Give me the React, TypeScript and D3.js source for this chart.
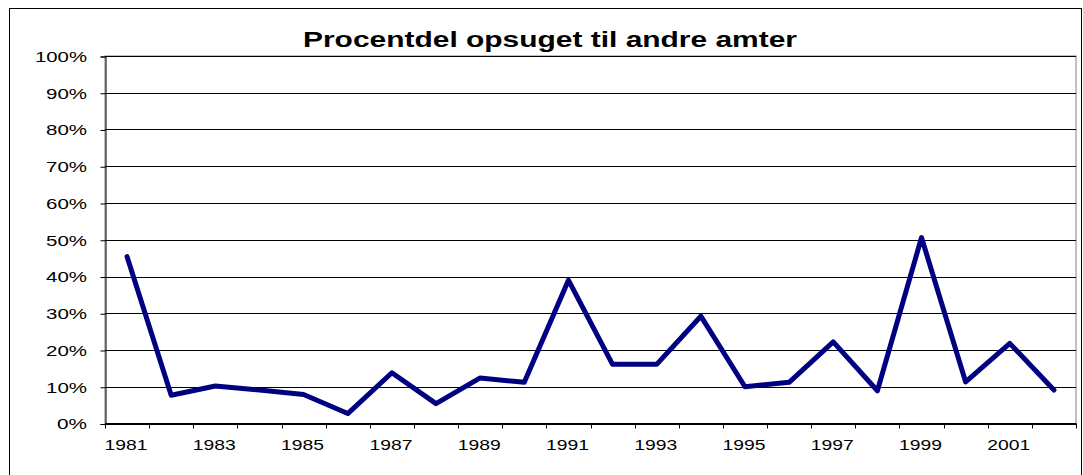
import React, {useEffect, useRef} from "react";
import * as d3 from "d3";

const years = ["1981", "1982", "1983", "1984", "1985", "1986", "1987", "1988", "1989", "1990", "1991",
    "1992", "1993", "1994", "1995", "1996", "1997", "1998", "1999", "2000", "2001", "2002"];
const shares = [0.454, 0.077, 0.102, 0.091, 0.079, 0.027, 0.138, 0.054, 0.124, 0.112, 0.39,
    0.161, 0.161, 0.292, 0.1, 0.112, 0.222, 0.089, 0.506, 0.113, 0.218, 0.091];
const yTicks = [0, 0.1, 0.2, 0.3, 0.4, 0.5, 0.6, 0.7, 0.8, 0.9, 1];
const title = "Procentdel opsuget til andre amter";

const font = "Liberation Sans, Arial, sans-serif";

const App = () => {
    const ref = useRef<SVGSVGElement>(null);

    useEffect(() => {
        const w = 1083;
        const h = 475;
        const left = 105, right = 1076, top = 56, bottom = 423.5;

        const svg = d3.select(ref.current)
            .attr("width", w)
            .attr("height", h);
        svg.selectAll("*").remove();

        const xScale = d3.scaleBand()
            .domain(years)
            .range([left, right]);

        const yScale = d3.scaleLinear()
            .domain([0, 1])
            .range([bottom, top]);

        // outer chart frame
        svg.append("rect")
            .attr("x", 9.5).attr("y", 8.5)
            .attr("width", 1072).attr("height", 500)
            .attr("fill", "#fff")
            .attr("stroke", "#000");

        // title, stretched wide like the old excel rendering
        svg.append("text")
            .attr("x", 303)
            .attr("y", 47)
            .attr("font-family", font)
            .attr("font-weight", "bold")
            .attr("font-size", 22)
            .attr("textLength", 494)
            .attr("lengthAdjust", "spacingAndGlyphs")
            .text(title);

        // plot area border
        svg.append("rect")
            .attr("x", left).attr("y", top)
            .attr("width", right - left).attr("height", bottom - top)
            .attr("fill", "none")
            .attr("stroke", "#808080");

        // gridlines
        svg.append("g")
            .selectAll("line")
            .data(yTicks)
            .join("line")
            .attr("x1", left).attr("x2", right)
            .attr("y1", d => Math.round(yScale(d)) + 0.5)
            .attr("y2", d => Math.round(yScale(d)) + 0.5)
            .attr("stroke", "#000")
            .attr("stroke-width", 1);

        const yAxis = d3.axisLeft(yScale)
            .tickValues(yTicks)
            .tickFormat(d3.format(".0%"))
            .tickSize(5)
            .tickPadding(13.5);
        const gy = svg.append("g")
            .attr("transform", `translate(${left + 0.5},0.5)`)
            .call(yAxis);
        gy.select(".domain").attr("stroke", "#000");
        gy.selectAll("text")
            .attr("font-family", font)
            .attr("font-size", 15)
            .attr("fill", "#000")
            .attr("textLength", (d: any) => (d3.format(".0%")(d).length - 1) * 11 + 19)
            .attr("lengthAdjust", "spacingAndGlyphs");

        // x ticks between categories
        const xAxis = d3.axisBottom(xScale)
            .tickSize(0)
            .tickPadding(16)
            .tickFormat((d, i) => (i % 2 === 0 ? d : ""));
        const gx = svg.append("g")
            .attr("transform", `translate(0,${bottom})`)
            .call(xAxis);
        gx.select(".domain").remove();
        gx.selectAll("text")
            .attr("font-family", font)
            .attr("font-size", 15)
            .attr("fill", "#000")
            .attr("dx", -1)
            .attr("textLength", (d: any, i: number) => (i % 2 === 0 ? 43 : null))
            .attr("lengthAdjust", "spacingAndGlyphs");

        svg.append("g")
            .selectAll("line")
            .data(d3.range(years.length + 1))
            .join("line")
            .attr("x1", i => Math.round(left + i * xScale.step()) + 0.5)
            .attr("x2", i => Math.round(left + i * xScale.step()) + 0.5)
            .attr("y1", bottom)
            .attr("y2", bottom + 5)
            .attr("stroke", "#000");

        svg.append("line")
            .attr("x1", left).attr("x2", right)
            .attr("y1", bottom).attr("y2", bottom)
            .attr("stroke", "#000");

        const line = d3.line<number>()
            .x((d, i) => xScale(years[i])! + xScale.bandwidth() / 2)
            .y(d => yScale(d));

        svg.append("path")
            .datum(shares)
            .attr("d", line)
            .attr("fill", "none")
            .attr("stroke", "#000080")
            .attr("stroke-width", 5)
            .attr("stroke-linejoin", "round")
            .attr("stroke-linecap", "round");
    }, []);

    return (
        <svg ref={ref} style={{position: "absolute", left: 0, top: 0}}></svg>
    );
};

export default App;
